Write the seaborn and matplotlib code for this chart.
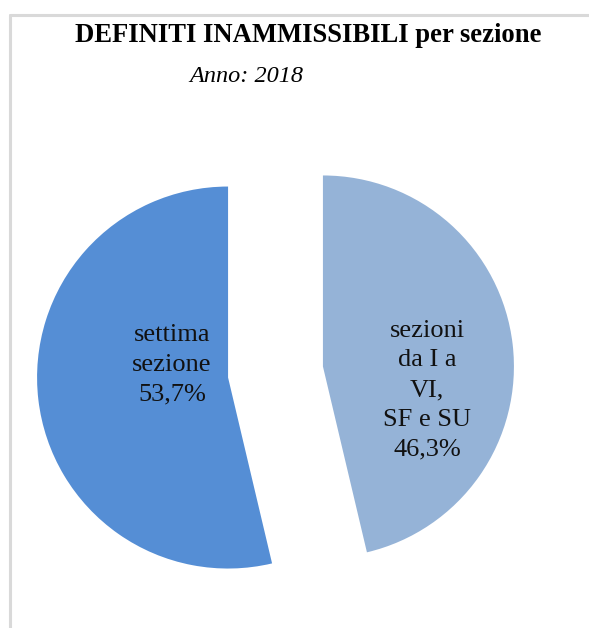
import matplotlib
matplotlib.use("Agg")
import matplotlib.pyplot as plt
import seaborn as sns
from matplotlib.lines import Line2D

sns.set_theme(style="white")
plt.rcParams['font.family'] = ['Liberation Serif', 'DejaVu Serif']

categories = ["sezioni\nda I a\nVI,\nSF e SU", "settima\nsezione"]
values = [46.3, 53.7]
value_labels = ["46,3%", "53,7%"]
colors = ["#95B3D7", "#558ED5"]
title = "DEFINITI INAMMISSIBILI per sezione"
subtitle = "Anno: 2018"

W, H, DPI = 589, 628, 100
fig = plt.figure(figsize=(W / DPI, H / DPI), dpi=DPI)
ax = fig.add_axes([0, 0, 1, 1])

explode = [0.25, 0.25]
wedges, _ = ax.pie(values, colors=colors, startangle=90, counterclock=False,
                   explode=explode, radius=1.0,
                   wedgeprops=dict(linewidth=0))

scale = 191.0
cx, cy = 275.5, 372.0
ax.set_xlim(-cx / scale, (W - cx) / scale)
ax.set_ylim(-(H - cy) / scale, cy / scale)
ax.set_aspect('auto')
ax.axis('off')

label_pos = [(0.793, -0.095), (-0.542, 0.036)]
for cat, vl, (x, y) in zip(categories, value_labels, label_pos):
    ax.text(x, y, f"{cat}\n{vl}", ha='center', va='center', fontsize=19,
            color='#111111', linespacing=1.45, multialignment='center')

fig.text(308 / W, 1 - 35 / H, title, fontsize=19.2, fontweight='bold',
         ha='center', va='center', color='black')
fig.text(246.5 / W, 1 - 77 / H, subtitle, fontsize=17.5, fontstyle='italic',
         ha='center', va='center', color='black')

fc = '#D9D9D9'
fig.add_artist(Line2D([9.5 / W, 1.0], [1 - 14.5 / H, 1 - 14.5 / H],
                      transform=fig.transFigure, color=fc, linewidth=2.2))
fig.add_artist(Line2D([9.5 / W, 9.5 / W], [0, 1 - 14.5 / H],
                      transform=fig.transFigure, color=fc, linewidth=2.2))

fig.savefig("out.png", dpi=DPI, facecolor='white')
